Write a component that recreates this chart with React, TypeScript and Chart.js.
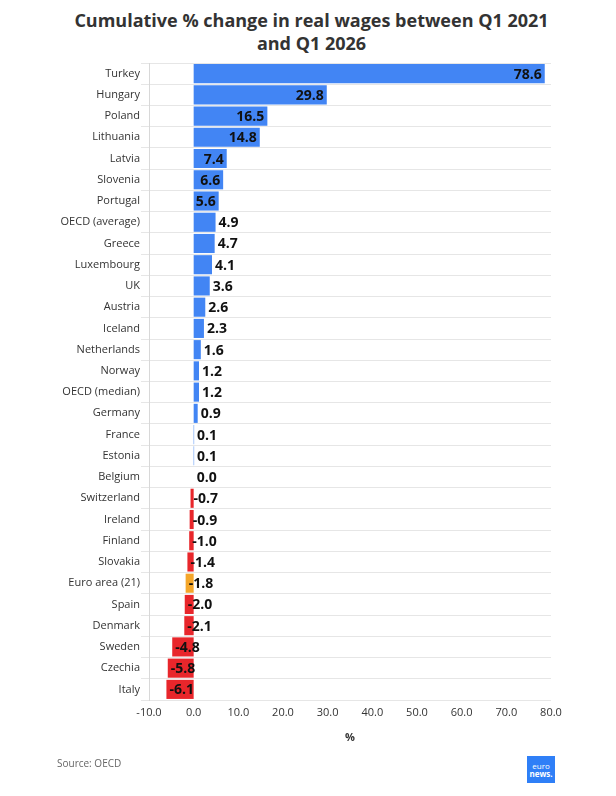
import { useEffect, useRef } from "react";
import { Chart, registerables } from "chart.js";

Chart.register(...registerables);

// Cumulative % change in real wages, Q1 2021 to Q1 2026
const countries = [
  "Turkey", "Hungary", "Poland", "Lithuania", "Latvia", "Slovenia", "Portugal",
  "OECD (average)", "Greece", "Luxembourg", "UK", "Austria", "Iceland",
  "Netherlands", "Norway", "OECD (median)", "Germany", "France", "Estonia",
  "Belgium", "Switzerland", "Ireland", "Finland", "Slovakia", "Euro area (21)",
  "Spain", "Denmark", "Sweden", "Czechia", "Italy",
];
const changes = [
  78.6, 29.8, 16.5, 14.8, 7.4, 6.6, 5.6,
  4.9, 4.7, 4.1, 3.6, 2.6, 2.3,
  1.6, 1.2, 1.2, 0.9, 0.1, 0.1,
  0.0, -0.7, -0.9, -1.0, -1.4, -1.8,
  -2.0, -2.1, -4.8, -5.8, -6.1,
];
const xTicks = [-10, 0, 10, 20, 30, 40, 50, 60, 70, 80];
const highlighted = ["Euro area (21)"];

const BLUE = "#4285f4";
const RED = "#e8262b";
const ORANGE = "#f4a62a";
const FONT = '"Open Sans", "Noto Sans", sans-serif';

const barColours = countries.map((c, i) =>
  highlighted.includes(c) ? ORANGE : changes[i] < 0 ? RED : BLUE
);

// Value labels: long bars get them inside the end, the rest just past the end
const valueLabels = {
  id: "valueLabels",
  afterDatasetsDraw(chart: any) {
    const { ctx } = chart;
    const meta = chart.getDatasetMeta(0);
    const x = chart.scales.x;
    ctx.save();
    ctx.font = `bold 14px ${FONT}`;
    ctx.fillStyle = "#111";
    ctx.textBaseline = "middle";
    meta.data.forEach((bar: any, i: number) => {
      const v = changes[i];
      const end = x.getPixelForValue(v);
      const txt = v.toFixed(1);
      if (v >= 5.5) {
        ctx.textAlign = "right";
        ctx.fillText(txt, end - 3, bar.y + 1);
      } else {
        ctx.textAlign = "left";
        ctx.fillText(txt, end + 3, bar.y + 1);
      }
    });
    ctx.restore();
  },
};

export default function App() {
  const canvasRef = useRef<HTMLCanvasElement>(null);

  useEffect(() => {
    if (!canvasRef.current) return;
    const chart = new Chart(canvasRef.current, {
      type: "bar",
      data: {
        labels: countries,
        datasets: [
          {
            data: changes,
            backgroundColor: barColours,
            barPercentage: 0.9,
            categoryPercentage: 1,
          },
        ],
      },
      options: {
        indexAxis: "y",
        animation: false,
        responsive: false,
        devicePixelRatio: 1,
        layout: { padding: { left: 0, right: 65, top: 63, bottom: 46 } },
        plugins: {
          legend: { display: false },
          tooltip: { enabled: false },
          title: { display: false },
        },
        scales: {
          x: {
            type: "linear",
            min: xTicks[0],
            max: xTicks[xTicks.length - 1],
            afterBuildTicks: (scale: any) => {
              scale.ticks = xTicks.map((v) => ({ value: v }));
            },
            afterFit: (scale: any) => {
              scale.height = 50;
            },
            grid: { display: false, drawTicks: false },
            border: { display: false },
            ticks: {
              padding: 6,
              color: "#333",
              font: { family: FONT, size: 11 },
              callback: (v: any) => Number(v).toFixed(1),
            },
            title: {
              display: true,
              text: "%",
              color: "#333",
              font: { family: FONT, size: 11, weight: "bold" },
              padding: { top: 0, bottom: 6 },
            },
          },
          y: {
            type: "category",
            afterFit: (scale: any) => {
              scale.width = 149;
            },
            grid: { color: "#e6e6e6", tickLength: 8, offset: true },
            border: { color: "#d8d8d8" },
            ticks: {
              padding: 1,
              color: "#333",
              autoSkip: false,
              font: { family: FONT, size: 11 },
            },
          },
        },
      },
      plugins: [valueLabels],
    } as any);
    return () => chart.destroy();
  }, []);

  return (
    <div
      style={{
        position: "fixed",
        left: 0,
        top: 0,
        width: 616,
        height: 796,
        background: "#fff",
        fontFamily: FONT,
      }}
    >
      <div
        style={{
          position: "absolute",
          left: 0,
          top: 9,
          width: 623,
          textAlign: "center",
          fontSize: 18,
          lineHeight: "23px",
          fontWeight: 700,
          color: "#333",
        }}
      >
        Cumulative % change in real wages between Q1 2021
        <br />
        and Q1 2026
      </div>
      <canvas
        ref={canvasRef}
        width={616}
        height={796}
        style={{ position: "absolute", left: 0, top: 0, width: 616, height: 796 }}
      />
      <div
        style={{
          position: "absolute",
          left: 57,
          top: 756,
          fontSize: 10,
          color: "#666",
        }}
      >
        Source: OECD
      </div>
      <div
        style={{
          position: "absolute",
          left: 527,
          top: 756,
          width: 28,
          height: 27,
          background: "#2f7ff7",
          color: "#fff",
          fontSize: 8,
          lineHeight: "8px",
          display: "flex",
          flexDirection: "column",
          justifyContent: "center",
          alignItems: "center",
        }}
      >
        <span>euro</span>
        <span style={{ fontWeight: 700 }}>news.</span>
      </div>
    </div>
  );
}
